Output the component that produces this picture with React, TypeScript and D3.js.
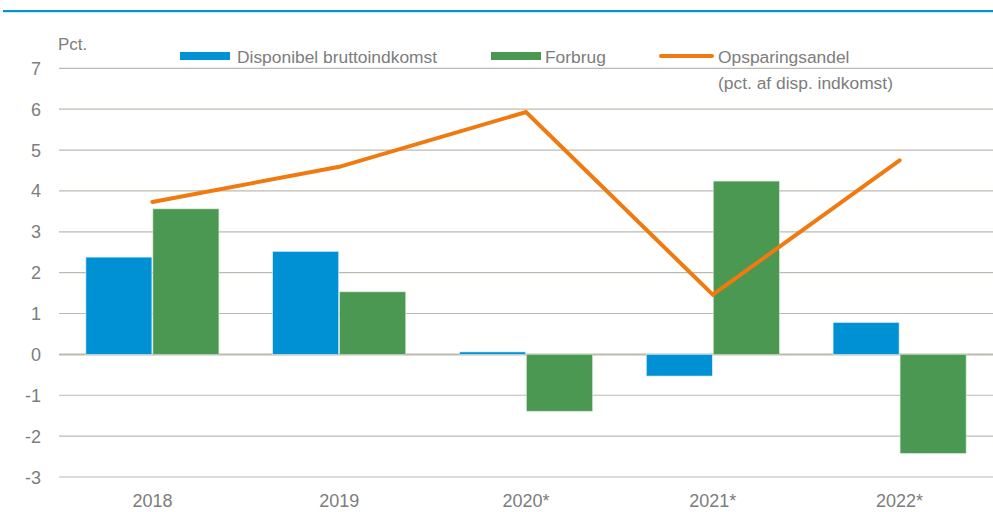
import React from "react";
import * as d3 from "d3";

const categories = ["2018", "2019", "2020*", "2021*", "2022*"];
const disponibel = [2.38, 2.52, 0.06, -0.53, 0.78];
const forbrug = [3.56, 1.53, -1.39, 4.24, -2.42];
const opsparing = [3.73, 4.59, 5.93, 1.46, 4.75];
const yTicks = [-3, -2, -1, 0, 1, 2, 3, 4, 5, 6, 7];
const seriesNames = ["Disponibel bruttoindkomst", "Forbrug", "Opsparingsandel", "(pct. af disp. indkomst)"];

const W = 993;
const H = 512;
const BLUE = "#0090d4";
const GREEN = "#4a9852";
const ORANGE = "#f07a10";
const GRID = "#bcbab0";
const TEXT = "#7d7d7d";
const FONT = "'Liberation Sans', Arial, sans-serif";

export default function App() {
  const x = d3.scaleBand<string>().domain(categories).range([59, 993]).paddingInner(0).paddingOuter(0);
  const y = d3.scaleLinear().domain([-3, 7]).range([477, 68.3]);
  const bw = 66;
  const line = d3
    .line<number>()
    .x((_, i) => (x(categories[i]) as number) + x.bandwidth() / 2)
    .y((d) => y(d));

  return (
    <svg width={W} height={H} style={{ position: "absolute", left: 0, top: 0, background: "#fff" }} fontFamily={FONT}>
      <rect x={3} y={10} width={990} height={2.2} fill="#0093d6" />
      {yTicks.map((t) => (
        <g key={t}>
          <line x1={59} x2={993} y1={y(t)} y2={y(t)} stroke={GRID} strokeWidth={t === 0 ? 2 : 1.2} />
          <text x={41} y={y(t) + 6.5} textAnchor="end" fontSize={18} fill={TEXT}>
            {t}
          </text>
        </g>
      ))}
      <text x={58} y={50} fontSize={17} fill={TEXT}>Pct.</text>
      {categories.map((c, i) => {
        const cx = (x(c) as number) + x.bandwidth() / 2;
        const d = disponibel[i];
        const f = forbrug[i];
        return (
          <g key={c}>
            <rect x={cx - bw - 0.5} y={Math.min(y(d), y(0))} width={bw} height={Math.abs(y(d) - y(0))} fill={BLUE} stroke="#d9eef8" strokeWidth={0.6} />
            <rect x={cx + 0.5} y={Math.min(y(f), y(0))} width={bw} height={Math.abs(y(f) - y(0))} fill={GREEN} stroke="#cfe3d0" strokeWidth={0.6} />
            <text x={cx} y={507} textAnchor="middle" fontSize={18} fill={TEXT}>{c}</text>
          </g>
        );
      })}
      <path d={line(opsparing) as string} fill="none" stroke={ORANGE} strokeWidth={4} strokeLinejoin="miter" strokeLinecap="round" />
      <rect x={180} y={52} width={50} height={8} fill={BLUE} />
      <text x={237} y={63} fontSize={17.4} fill={TEXT}>{seriesNames[0]}</text>
      <rect x={491} y={52} width={50} height={8} fill={GREEN} />
      <text x={545} y={63} fontSize={17.4} fill={TEXT}>{seriesNames[1]}</text>
      <line x1={661} x2={712} y1={56} y2={56} stroke={ORANGE} strokeWidth={4} strokeLinecap="round" />
      <text x={718} y={63} fontSize={17.4} fill={TEXT}>{seriesNames[2]}</text>
      <text x={718} y={89} fontSize={17.4} fill={TEXT}>{seriesNames[3]}</text>
    </svg>
  );
}
